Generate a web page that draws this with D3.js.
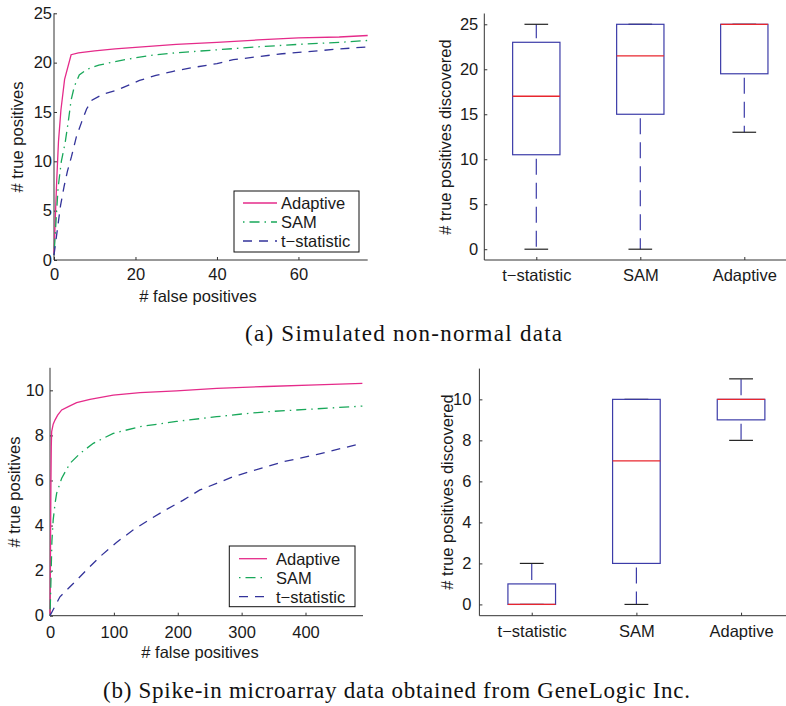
<!DOCTYPE html>
<html><head><meta charset="utf-8">
<script src="https://cdn.jsdelivr.net/npm/d3@7"></script>
<style>
body{margin:0;background:#fff;}
svg{display:block;font-family:"Liberation Sans",Arial,sans-serif;}
.cap{font-family:"Liberation Serif","Times New Roman",serif;}
</style></head>
<body>
<svg id="c" width="786" height="706"></svg>
<script>
// ---------- DATA ----------
const seriesNames = ["Adaptive", "SAM", "t\u2212statistic"];
const boxCategories = ["t\u2212statistic", "SAM", "Adaptive"];

// (a) Simulated non-normal data : ROC-like curves
const aAdaptiveX = [0, 0.3, 0.66, 1.1, 1.7, 2.6, 4.2, 6, 10, 15, 20, 30, 40, 50, 60, 70, 77];
const aAdaptiveY = [0.5, 4, 8, 12, 15.2, 18.3, 20.8, 21.0, 21.2, 21.4, 21.55, 21.85, 22.05, 22.3, 22.5, 22.6, 22.75];
const aSamX = [0, 0.5, 1, 1.8, 2.7, 3.5, 4.2, 5, 6.2, 8, 11, 15, 20, 25, 30, 40, 50, 60, 70, 77];
const aSamY = [0.5, 4, 7.3, 10, 11.8, 14, 16.2, 17.6, 18.75, 19.3, 19.75, 20.1, 20.5, 20.8, 21.0, 21.3, 21.6, 21.85, 22.05, 22.25];
const aTstatX = [0, 0.8, 1.6, 2.5, 3.3, 4.3, 5.5, 6.8, 8, 9.3, 12, 15.4, 21, 25, 29, 34, 40, 44, 50, 56, 62, 69, 77];
const aTstatY = [0.5, 3, 5.5, 7.5, 9, 10.5, 12.5, 14, 15.3, 16.2, 16.8, 17.2, 18.2, 18.7, 19.1, 19.5, 19.9, 20.3, 20.6, 20.9, 21.1, 21.35, 21.6];
const aXTicks = [0, 20, 40, 60];
const aYTicks = [0, 5, 10, 15, 20, 25];

// (a) box plot
const aBoxLow = [0, 0, 13];
const aBoxQ1 = [10.5, 15, 19.5];
const aBoxMed = [17, 21.5, 25];
const aBoxQ3 = [23, 25, 25];
const aBoxHigh = [25, 25, 25];
const aBoxYTicks = [0, 5, 10, 15, 20, 25];

// (b) Spike-in microarray data
const bAdaptiveX = [0, 0.5, 1, 1.5, 2, 2.6, 5, 7.8, 12, 18.3, 28.7, 41.7, 62.6, 99, 141, 198, 261, 339, 417, 489];
const bAdaptiveY = [0, 1.5, 4, 6, 7.5, 8.17, 8.5, 8.68, 8.9, 9.13, 9.28, 9.45, 9.6, 9.79, 9.9, 9.98, 10.09, 10.17, 10.24, 10.31];
const bSamX = [0, 1, 2, 3, 5, 8, 10.4, 18.3, 31.3, 47, 67.8, 99, 141, 198, 261, 300, 339, 417, 489];
const bSamY = [0, 1, 2.2, 3.3, 4.25, 5, 5.43, 6.1, 6.76, 7.2, 7.65, 8.09, 8.39, 8.62, 8.83, 8.95, 9.05, 9.18, 9.3];
const bTstatX = [0, 15.6, 36.5, 57.4, 78.2, 104, 130, 156.5, 182.6, 208.7, 234.7, 260.8, 287, 313, 365, 417, 489];
const bTstatY = [0, 0.84, 1.43, 2.03, 2.62, 3.25, 3.8, 4.28, 4.72, 5.13, 5.58, 5.87, 6.17, 6.39, 6.83, 7.15, 7.65];
const bXTicks = [0, 100, 200, 300, 400];
const bYTicks = [0, 2, 4, 6, 8, 10];

// (b) box plot
const bBoxLow = [0, 0, 8];
const bBoxQ1 = [0, 2, 9];
const bBoxMed = [0, 7, 10];
const bBoxQ3 = [1, 10, 10];
const bBoxHigh = [2, 10, 11];
const bBoxYTicks = [0, 2, 4, 6, 8, 10];

const captions = ["(a) Simulated non-normal data", "(b) Spike-in microarray data obtained from GeneLogic Inc."];

// ---------- STYLE ----------
const colAdaptive = "#e52b8a", colSam = "#19a85a", colTstat = "#33339a";
const seriesStyle = [
  {color: colAdaptive, dash: null, off: 0},
  {color: colSam, dash: "1.5,5,10,5", off: 0},
  {color: colTstat, dash: "9,7", off: 0}
];
const textCol = "#1a1a1a", axisCol = "#333";
const FS = 16.5;

const svg = d3.select("#c");

function zip(xs, ys){ return xs.map((x,i)=>[x, ys[i]]); }

function styleAxis(a){
  a.select(".domain").attr("stroke", axisCol);
  a.selectAll(".tick line").attr("stroke", axisCol);
  a.selectAll(".tick text").attr("fill", textCol).attr("font-size", FS)
    .attr("font-family", "Liberation Sans, Arial, sans-serif");
}

function linePanel(o){
  const x = d3.scaleLinear().domain(o.xDomain).range(o.xRange);
  const y = d3.scaleLinear().domain(o.yDomain).range(o.yRange);
  const g = svg.append("g");
  const xa = g.append("g").attr("transform", `translate(0,${o.yRange[0]})`)
    .call(d3.axisBottom(x).tickValues(o.xTicks).tickSize(-3).tickPadding(0).tickFormat(d3.format("d")));
  const ya = g.append("g").attr("transform", `translate(${o.xRange[0]},0)`)
    .call(d3.axisLeft(y).tickValues(o.yTicks).tickSize(-3).tickPadding(o.yPad).tickFormat(d3.format("d")));
  styleAxis(xa); styleAxis(ya);
  xa.select(".domain").attr("d", `M${o.xRange[0]},0H${o.xRange[1]}`);
  ya.select(".domain").attr("d", `M0,${o.yRange[0]}V${o.yRange[1]}`);
  xa.selectAll(".tick text").attr("dy", null).attr("y", o.xLabelBase - o.yRange[0]);
  const line = d3.line().x(d=>x(d[0])).y(d=>y(d[1]));
  o.series.forEach((s,i)=>{
    g.append("path").datum(s).attr("d", line).attr("fill","none")
      .attr("stroke", seriesStyle[i].color).attr("stroke-width", 1.3)
      .attr("stroke-dasharray", seriesStyle[i].dash);
  });
  g.append("text").attr("x", o.xTitle[0]).attr("y", o.xTitle[1]).attr("text-anchor","middle")
    .attr("font-size", FS).attr("fill", textCol).text("# false positives");
  g.append("text").attr("transform", `translate(${o.yTitle[0]},${o.yTitle[1]}) rotate(-90)`)
    .attr("text-anchor","middle").attr("dy","0.35em").attr("font-size", FS).attr("fill", textCol).text("# true positives");
  const L = o.legend;
  g.append("rect").attr("x", L.x).attr("y", L.y).attr("width", L.w).attr("height", L.h)
    .attr("fill","#fff").attr("stroke","#111").attr("stroke-width",1);
  seriesNames.forEach((n,i)=>{
    const yy = L.rows[i];
    g.append("line").attr("x1", L.lx0).attr("x2", L.lx1).attr("y1", yy).attr("y2", yy)
      .attr("stroke", seriesStyle[i].color).attr("stroke-width", 1.3).attr("stroke-dasharray", seriesStyle[i].dash);
    g.append("text").attr("x", L.tx).attr("y", yy).attr("dy","0.36em").attr("font-size", FS)
      .attr("fill", textCol).text(n);
  });
}

function boxPanel(o){
  const x = d3.scaleLinear().domain([0.5, 3.5]).range(o.xRange);
  const y = d3.scaleLinear().domain(o.yDomain).range(o.yRange);
  const g = svg.append("g");
  const step = x(2) - x(1);
  const bw = step * 0.455, cw = bw / 2;
  const xa = g.append("g").attr("transform", `translate(0,${o.yRange[0]})`)
    .call(d3.axisBottom(x).tickValues([1,2,3]).tickSize(-3).tickPadding(0).tickFormat(d=>boxCategories[d-1]));
  const ya = g.append("g").attr("transform", `translate(${o.xRange[0]},0)`)
    .call(d3.axisLeft(y).tickValues(o.yTicks).tickSize(-3).tickPadding(o.yPad).tickFormat(d3.format("d")));
  styleAxis(xa); styleAxis(ya);
  xa.select(".domain").attr("d", `M${o.xRange[0]},0H${o.xRange[1]}`);
  ya.select(".domain").attr("d", `M0,${o.yRange[0]}V${o.yRange[1]}`);
  xa.selectAll(".tick text").attr("dy", null).attr("y", o.xLabelBase - o.yRange[0]);

  const blue = "#3c3ca8", red = "#e8262e", cap = "#222";
  boxCategories.forEach((c,i)=>{
    const cx = x(i+1);
    const dash = "16,8";
    if (o.high[i] > o.q3[i]) {
      g.append("line").attr("x1",cx).attr("x2",cx).attr("y1",y(o.q3[i])).attr("y2",y(o.high[i]))
        .attr("stroke",blue).attr("stroke-width",1.2).attr("stroke-dasharray",dash).attr("stroke-dashoffset",20);
    }
    if (o.low[i] < o.q1[i]) {
      g.append("line").attr("x1",cx).attr("x2",cx).attr("y1",y(o.q1[i])).attr("y2",y(o.low[i]))
        .attr("stroke",blue).attr("stroke-width",1.2).attr("stroke-dasharray",dash).attr("stroke-dashoffset",20);
    }
    [o.low[i], o.high[i]].forEach(v=>{
      g.append("line").attr("x1",cx-cw/2).attr("x2",cx+cw/2).attr("y1",y(v)).attr("y2",y(v))
        .attr("stroke",cap).attr("stroke-width",1.2);
    });
    g.append("rect").attr("x",cx-bw/2).attr("width",bw).attr("y",y(o.q3[i]))
      .attr("height", y(o.q1[i]) - y(o.q3[i])).attr("fill","none").attr("stroke",blue).attr("stroke-width",1.2);
    g.append("line").attr("x1",cx-bw/2).attr("x2",cx+bw/2).attr("y1",y(o.med[i])).attr("y2",y(o.med[i]))
      .attr("stroke",red).attr("stroke-width",1.3);
  });
  g.append("text").attr("transform", `translate(${o.yTitle[0]},${o.yTitle[1]}) rotate(-90)`)
    .attr("text-anchor","middle").attr("dy","0.35em").attr("font-size", FS).attr("fill", textCol)
    .text("# true positives discovered");
}

// ---------- PANELS ----------
linePanel({
  xDomain:[0,77], xRange:[54,367.7], yDomain:[0,25], yRange:[260,13.3],
  xTicks:aXTicks, yTicks:aYTicks, yPad:2, xLabelBase:280,
  series:[zip(aAdaptiveX,aAdaptiveY), zip(aSamX,aSamY), zip(aTstatX,aTstatY)],
  xTitle:[198,302], yTitle:[17,137],
  legend:{x:234,y:191,w:125,h:61,rows:[203,222,241],lx0:243,lx1:277,tx:281}
});
boxPanel({
  xRange:[484.3,796.3], yDomain:[-1.2,26.2], yRange:[260,13.5],
  yTicks:aBoxYTicks, yPad:6, xLabelBase:281, yTitle:[445,137],
  low:aBoxLow, q1:aBoxQ1, med:aBoxMed, q3:aBoxQ3, high:aBoxHigh
});
linePanel({
  xDomain:[0,490], xRange:[50,363], yDomain:[0,11], yRange:[615.7,367.8],
  xTicks:bXTicks, yTicks:bYTicks, yPad:6, xLabelBase:638,
  series:[zip(bAdaptiveX,bAdaptiveY), zip(bSamX,bSamY), zip(bTstatX,bTstatY)],
  xTitle:[200,658], yTitle:[14,492],
  legend:{x:229.3,y:546,w:125.7,h:60.7,rows:[558.7,577.7,596.7],lx0:239,lx1:267,tx:276}
});
boxPanel({
  xRange:[479.4,793.4], yDomain:[-0.55,11.5], yRange:[615.7,368.6],
  yTicks:bBoxYTicks, yPad:8, xLabelBase:637, yTitle:[447,492],
  low:bBoxLow, q1:bBoxQ1, med:bBoxMed, q3:bBoxQ3, high:bBoxHigh
});

// captions
svg.append("text").attr("class","cap").attr("x",403.5).attr("y",341).attr("text-anchor","middle")
  .attr("font-size",23).attr("fill","#111")
  .attr("textLength",317).attr("lengthAdjust","spacing").text(captions[0]);
svg.append("text").attr("class","cap").attr("x",396.5).attr("y",698).attr("text-anchor","middle")
  .attr("font-size",23).attr("fill","#111")
  .attr("textLength",587).attr("lengthAdjust","spacing").text(captions[1]);
</script>
</body></html>
